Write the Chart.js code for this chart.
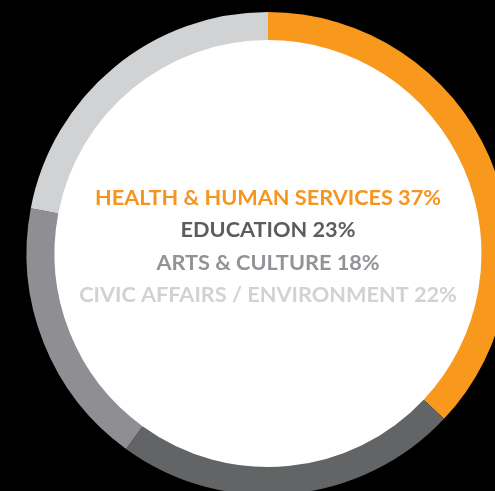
<!DOCTYPE html>
<html>
<head>
<meta charset="utf-8">
<script src="https://cdn.jsdelivr.net/npm/chart.js@4.4.1/dist/chart.umd.min.js"></script>
<style>
  html, body { margin:0; padding:0; background:#000; overflow:hidden; }
  #wrap { position:absolute; left:0; top:0; width:536px; height:507px; }
</style>
</head>
<body>
<div id="wrap"><canvas id="c"></canvas></div>
<script>
// categories + shares (percent)
const categories = ['HEALTH & HUMAN SERVICES', 'EDUCATION', 'ARTS & CULTURE', 'CIVIC AFFAIRS / ENVIRONMENT'];
const shares = [37, 23, 18, 22];
const ringColors = ['#F8981D', '#636466', '#8F8F93', '#D1D2D4'];
const textColors = ['#F7941D', '#5B5C5E', '#929396', '#D1D2D4'];

// center label block drawn inside the hole
const centerText = {
  id: 'centerText',
  afterDraw(chart){
    const ctx = chart.ctx, a = chart.chartArea;
    const cx = (a.left + a.right)/2, cy = (a.top + a.bottom)/2;
    ctx.save();
    ctx.font = '700 21.7px Lato';
    ctx.textAlign = 'center';
    ctx.textBaseline = 'middle';
    const step = 32.5;
    categories.forEach((c,i)=>{
      ctx.fillStyle = textColors[i];
      ctx.fillText(`${c} ${shares[i]}%`, cx, cy - 55.5 + i*step);
    });
    ctx.restore();
  }
};

new Chart(document.getElementById('c'), {
  type: 'doughnut',
  data: { labels: categories, datasets: [{ data: shares, backgroundColor: ringColors, borderWidth: 0 }] },
  options: {
    responsive: true, maintainAspectRatio: false, animation: false,
    cutout: '88.4%',
    layout: { padding: 12 },
    plugins: { legend: { display: false }, tooltip: { enabled: false } }
  },
  plugins: [
    { id:'hole', beforeDatasetsDraw(chart){
        const m = chart.getDatasetMeta(0).data[0]; const ctx = chart.ctx;
        ctx.save(); ctx.fillStyle = '#fff'; ctx.beginPath();
        ctx.arc(m.x, m.y, m.innerRadius + 1, 0, Math.PI*2); ctx.fill(); ctx.restore();
    } },
    centerText
  ]
});
</script>
</body>
</html>
